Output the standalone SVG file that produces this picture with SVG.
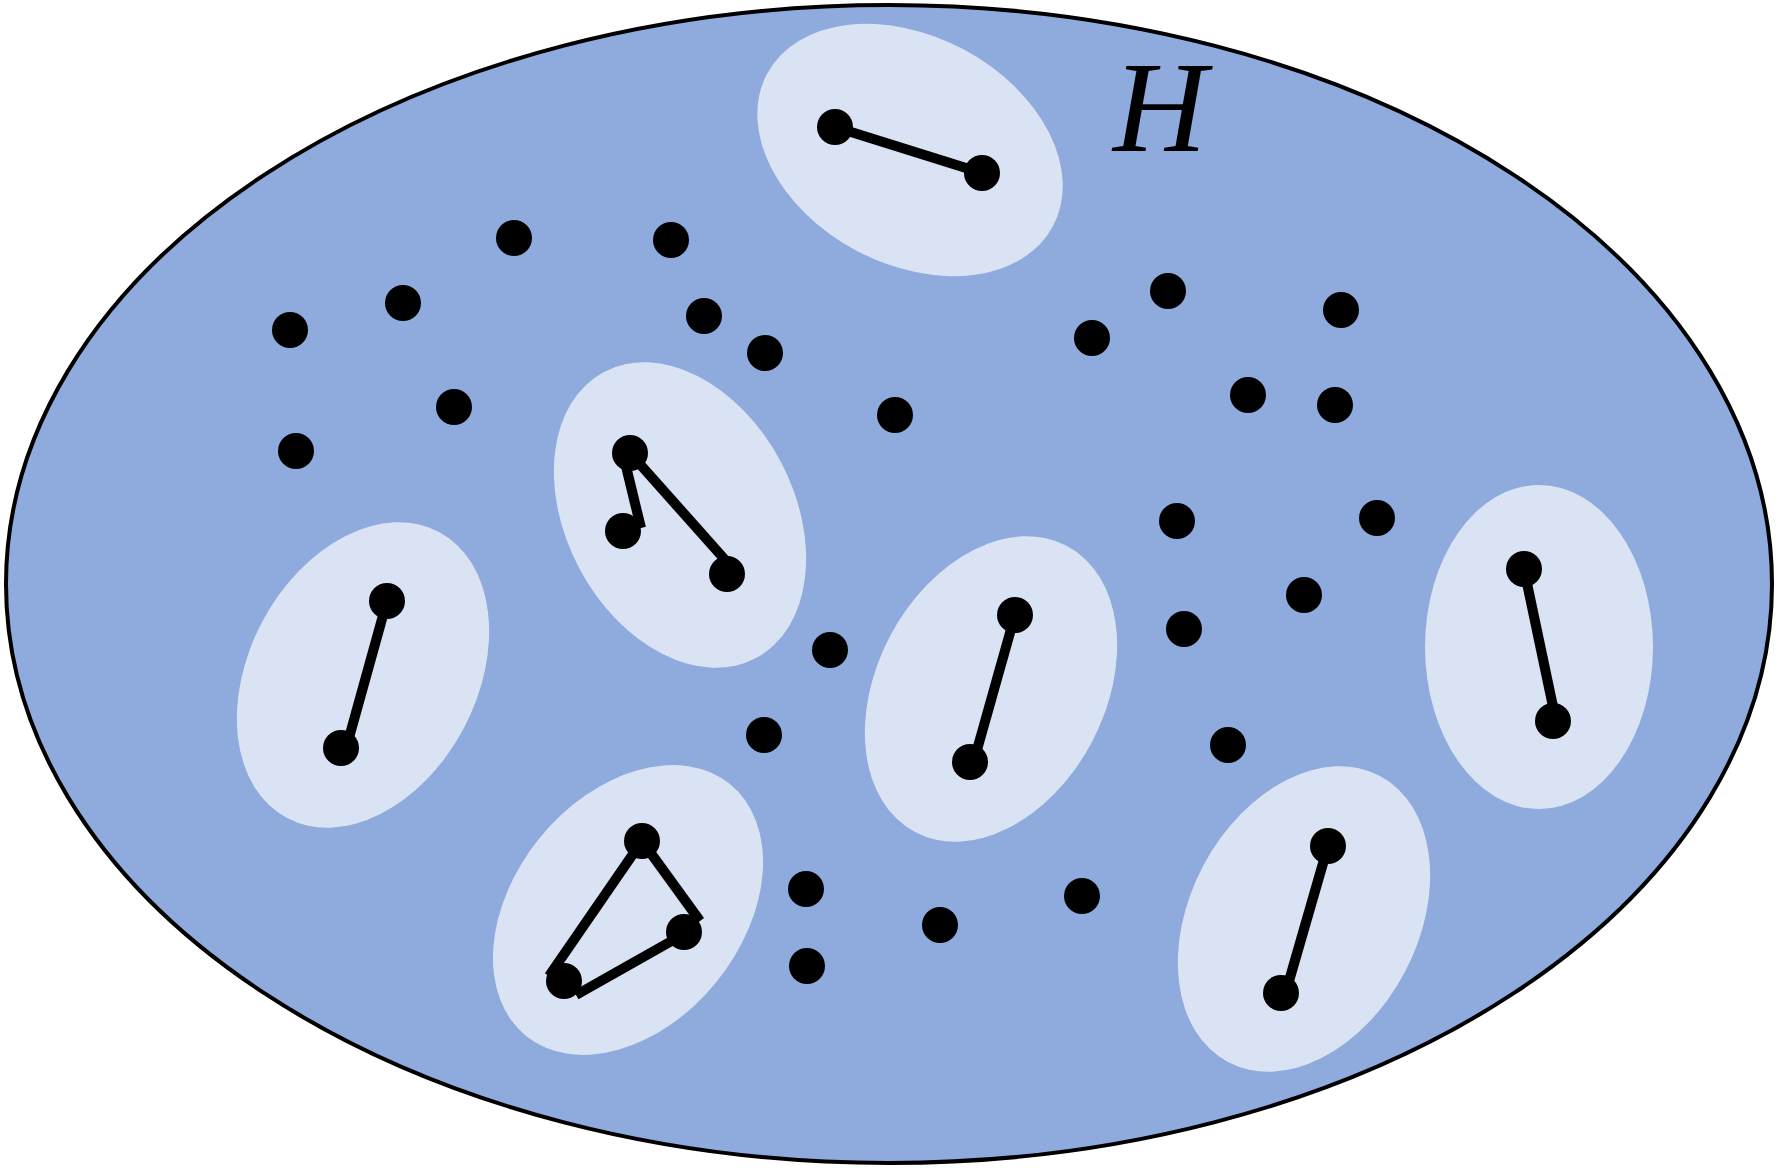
<svg xmlns="http://www.w3.org/2000/svg" width="1778" height="1168" viewBox="0 0 1778 1168">
<style>
.dot{fill:#000}
.cl{fill:#DAE3F3}
.e{stroke:#000;stroke-width:10;fill:none}
.lbl{font-family:"Liberation Serif","Times New Roman",Times,serif;font-style:italic;font-size:130px;fill:#000}
</style>
<rect width="1778" height="1168" fill="#fff"/>
<g id="H">
<ellipse cx="889" cy="584" rx="883" ry="579" fill="#8FAADC" stroke="#000" stroke-width="4"/>
<text class="lbl" x="1160" y="151" text-anchor="middle">H</text>
</g>
<g id="clusters">
<ellipse id="c1" class="cl" cx="910" cy="150" rx="162" ry="114" transform="rotate(28 910 150)"/>
<ellipse id="c2" class="cl" cx="680" cy="515" rx="114" ry="162" transform="rotate(-28 680 515)"/>
<ellipse id="c3" class="cl" cx="363" cy="675" rx="114" ry="162" transform="rotate(28 363 675)"/>
<ellipse id="c4" class="cl" cx="991" cy="689" rx="114" ry="162" transform="rotate(28 991 689)"/>
<ellipse id="c5" class="cl" cx="628" cy="910" rx="114" ry="162" transform="rotate(39 628 910)"/>
<ellipse id="c6" class="cl" cx="1304" cy="919" rx="114" ry="162" transform="rotate(28 1304 919)"/>
<ellipse id="c7" class="cl" cx="1539" cy="647" rx="114" ry="162"/>
</g>
<g id="edges">
<line class="e" x1="835" y1="127" x2="982" y2="173"/>
<line class="e" x1="624" y1="458" x2="641" y2="528"/>
<line class="e" x1="630" y1="453" x2="727" y2="562"/>
<line class="e" x1="387" y1="601" x2="347" y2="745"/>
<line class="e" x1="1015" y1="615" x2="975" y2="757"/>
<line class="e" x1="642" y1="841" x2="700" y2="921"/>
<line class="e" x1="642" y1="841" x2="549" y2="976"/>
<line class="e" x1="576" y1="995" x2="684" y2="934"/>
<line class="e" x1="1328" y1="846" x2="1287" y2="988"/>
<line class="e" x1="1524" y1="569" x2="1555" y2="716"/>
</g>
<g id="nodes">
<circle class="dot" cx="835" cy="127" r="18"/>
<circle class="dot" cx="982" cy="173" r="18"/>
<circle class="dot" cx="630" cy="453" r="18"/>
<circle class="dot" cx="623" cy="531" r="18"/>
<circle class="dot" cx="727" cy="574" r="18"/>
<circle class="dot" cx="387" cy="601" r="18"/>
<circle class="dot" cx="341" cy="748" r="18"/>
<circle class="dot" cx="1015" cy="615" r="18"/>
<circle class="dot" cx="970" cy="762" r="18"/>
<circle class="dot" cx="642" cy="841" r="18"/>
<circle class="dot" cx="684" cy="932" r="18"/>
<circle class="dot" cx="564" cy="981" r="18"/>
<circle class="dot" cx="1328" cy="846" r="18"/>
<circle class="dot" cx="1281" cy="993" r="18"/>
<circle class="dot" cx="1524" cy="569" r="18"/>
<circle class="dot" cx="1553" cy="721" r="18"/>
<circle class="dot" cx="514" cy="238" r="18"/>
<circle class="dot" cx="671" cy="240" r="18"/>
<circle class="dot" cx="403" cy="303" r="18"/>
<circle class="dot" cx="290" cy="330" r="18"/>
<circle class="dot" cx="704" cy="316" r="18"/>
<circle class="dot" cx="765" cy="353" r="18"/>
<circle class="dot" cx="454" cy="407" r="18"/>
<circle class="dot" cx="296" cy="451" r="18"/>
<circle class="dot" cx="895" cy="415" r="18"/>
<circle class="dot" cx="1168" cy="291" r="18"/>
<circle class="dot" cx="1092" cy="338" r="18"/>
<circle class="dot" cx="1341" cy="310" r="18"/>
<circle class="dot" cx="1248" cy="395" r="18"/>
<circle class="dot" cx="1335" cy="405" r="18"/>
<circle class="dot" cx="1177" cy="521" r="18"/>
<circle class="dot" cx="1377" cy="518" r="18"/>
<circle class="dot" cx="1304" cy="595" r="18"/>
<circle class="dot" cx="1184" cy="629" r="18"/>
<circle class="dot" cx="1228" cy="745" r="18"/>
<circle class="dot" cx="830" cy="650" r="18"/>
<circle class="dot" cx="764" cy="735" r="18"/>
<circle class="dot" cx="806" cy="889" r="18"/>
<circle class="dot" cx="807" cy="966" r="18"/>
<circle class="dot" cx="940" cy="925" r="18"/>
<circle class="dot" cx="1082" cy="896" r="18"/>
</g>
</svg>
